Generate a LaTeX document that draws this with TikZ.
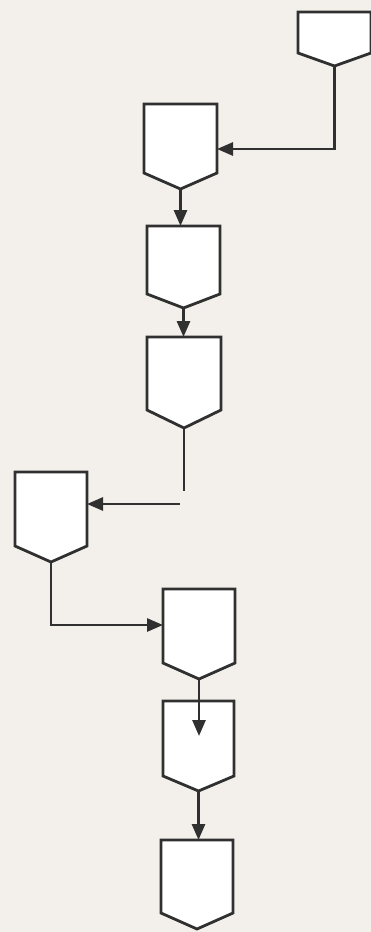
\documentclass[tikz,border=0pt]{standalone}
\usetikzlibrary{arrows.meta}
\definecolor{paper}{HTML}{F3F0EC}
\definecolor{ink}{HTML}{303030}
\tikzset{
  boxspace/.style={inner sep=0pt, outer sep=0pt, anchor=north west},
  boxline/.style={draw=ink, line width=2.8pt, fill=white, line join=miter},
  plainline/.style={draw=ink, line width=2.8pt},
  flow/.style={plainline, -{Triangle[length=16pt,width=13pt]}},
}
% name, left x, top y, width, height down to the tip, depth of the tip
\newcommand\hexbox[6]{%
  \node[boxspace, minimum width=#4pt, minimum height=#5pt] (#1) at (#2,#3) {};
  \draw[boxline] (#1.north west) -- (#1.north east)
    -- ([yshift=#6pt]#1.south east) -- (#1.south)
    -- ([yshift=#6pt]#1.south west) -- cycle;
}
\begin{document}
\begin{tikzpicture}[x=1pt,y=-1pt]
  \useasboundingbox[fill=paper] (0,0) rectangle (371,932);

  \hexbox{b1}{298}{12}{73}{54}{13}
  \hexbox{b2}{144}{104}{73}{85}{16}
  \hexbox{b3}{147}{226}{73}{82}{14}
  \hexbox{b4}{147}{337}{74}{91}{18}
  \hexbox{b5}{15}{472}{72}{90}{16}
  \hexbox{b6}{163}{589}{72}{90}{16}
  \hexbox{b7}{163}{701}{71}{90}{15}
  \hexbox{b8}{161}{840}{72}{89}{16}

  \coordinate (j1) at (335,149);
  \coordinate (e4) at (182,491);
  \coordinate (s5) at (180,504);
  \coordinate (j5) at (50,625);
  \coordinate (h7) at (198,736);

  \draw[flow] (b1.south) |- (b2.east |- j1);
  \draw[flow] (b2.south) -- (b2.south |- b3.north);
  \draw[flow] (b3.south) -- (b3.south |- b4.north);
  \draw[plainline] (b4.south) -- (b4.south |- e4);
  \draw[flow] (s5) -- (s5 -| b5.east);
  \draw[flow] (b5.south) |- (b6.west |- j5);
  \draw[flow] (b6.south) -- (b6.south |- h7);
  \draw[flow] (b7.south) -- (b7.south |- b8.north);
\end{tikzpicture}
\end{document}
